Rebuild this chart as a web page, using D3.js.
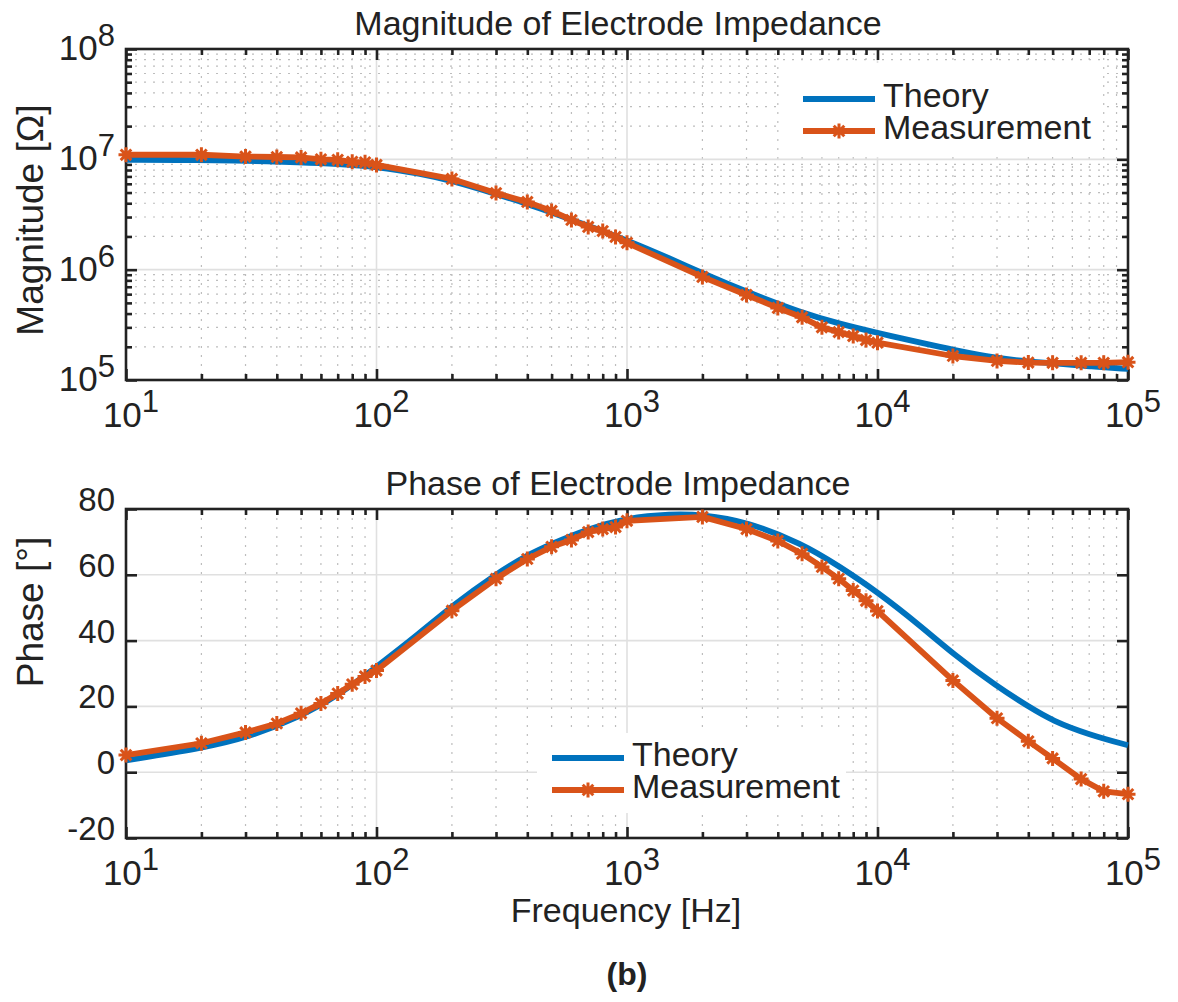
<!DOCTYPE html>
<html>
<head>
<meta charset="utf-8">
<script src="https://cdn.jsdelivr.net/npm/d3@7"></script>
<style>
  body { margin: 0; background: #fff; }
  svg text { font-family: "Liberation Sans", Arial, Helvetica, sans-serif; fill: #222; }
</style>
</head>
<body>
<svg id="chart" width="1178" height="1002"></svg>
<script>
// measured points (Hz)
var freqMeas = [10, 20, 30, 40, 50, 60, 70, 80, 90, 100,
    200, 300, 400, 500, 600, 700, 800, 900, 1000,
    2000, 3000, 4000, 5000, 6000, 7000, 8000, 9000, 10000,
    20000, 30000, 40000, 50000, 65000, 80000, 100000];
var magMeas = [1.10e7, 1.10e7, 1.06e7, 1.05e7, 1.04e7, 1.00e7, 0.99e7, 0.95e7, 0.94e7, 8.9e6,
    6.64e6, 4.95e6, 4.11e6, 3.41e6, 2.82e6, 2.44e6, 2.24e6, 1.98e6, 1.75e6,
    8.6e5, 5.9e5, 4.5e5, 3.7e5, 3.0e5, 2.72e5, 2.5e5, 2.3e5, 2.18e5,
    1.65e5, 1.49e5, 1.44e5, 1.43e5, 1.43e5, 1.43e5, 1.45e5];
var phaseMeas = [5.2, 8.8, 12.1, 14.8, 17.9, 20.9, 23.9, 26.7, 29.1, 30.9,
    49.1, 58.8, 64.8, 68.5, 70.6, 73.0, 73.9, 74.5, 76.4,
    77.6, 73.9, 70.3, 66.4, 62.4, 58.8, 55.2, 52.1, 49.0,
    27.9, 16.4, 9.4, 4.2, -2.1, -5.8, -6.7];

// theory curve
var freqTheory = [10, 20, 30, 50, 70, 100, 150, 200, 300, 400, 500, 700, 1000, 1500, 2000,
    3000, 5000, 7000, 10000, 15000, 20000, 30000, 40000, 50000, 70000, 100000];
var magTheory = [9.9e6, 9.85e6, 9.7e6, 9.4e6, 9.1e6, 8.6e6, 7.4e6, 6.4e6, 4.85e6, 3.95e6, 3.3e6, 2.5e6, 1.85e6, 1.25e6, 9.3e5,
    6.3e5, 4.05e5, 3.25e5, 2.67e5, 2.17e5, 1.88e5, 1.57e5, 1.47e5, 1.42e5, 1.33e5, 1.26e5];
var phaseTheory = [3.6, 7.3, 10.3, 17.0, 23.2, 32.0, 42.5, 50.5, 60.3, 66.0, 69.4, 74.0, 77.3, 78.5, 78.3,
    76.2, 69.5, 62.7, 54.8, 44.2, 36.0, 26.0, 20.0, 15.6, 11.4, 8.2];

var xExps = [1, 2, 3, 4, 5];
var magExps = [5, 6, 7, 8];
var phaseTicks = [-20, 0, 20, 40, 60, 80];
var seriesNames = ['Theory', 'Measurement'];

var blue = '#0072BD', orange = '#D95319';

var svg = d3.select('#chart');

var x = d3.scaleLog().domain([10, 1e5]).range([126, 1128]);
var yMag = d3.scaleLog().domain([1e5, 1e8]).range([380, 49]);
var yPh = d3.scaleLinear().domain([-20, 80]).range([838, 509]);

function minorsOf(exps) {
    var out = [];
    for (var i = 0; i < exps.length - 1; i++) {
        for (var k = 2; k <= 9; k++) out.push(k * Math.pow(10, exps[i]));
    }
    return out;
}
var xMajor = xExps.map(function(e){ return Math.pow(10, e); });
var xMinor = minorsOf(xExps);
var magMajor = magExps.map(function(e){ return Math.pow(10, e); });
var magMinor = minorsOf(magExps);

function asterisk(g, cx, cy) {
    g.append('path')
        .attr('transform', 'translate(' + cx + ',' + cy + ')')
        .attr('d', 'M-7.5,0H7.5M0,-7.5V7.5M-5.3,-5.3L5.3,5.3M-5.3,5.3L5.3,-5.3')
        .attr('stroke', orange).attr('stroke-width', 3).attr('fill', 'none');
}

function drawPanel(y, opts) {
    var g = svg.append('g');
    var r = y.range();
    var yb = r[0], yt = r[1];
    var xl = 126, xr = 1128;

    // minor grid (dotted)
    g.append('g').selectAll('line').data(xMinor).enter().append('line')
        .attr('x1', function(d){ return x(d); }).attr('x2', function(d){ return x(d); })
        .attr('y1', yt).attr('y2', yb)
        .attr('stroke', '#bdbdbd').attr('stroke-width', 1.2).attr('stroke-dasharray', '2,7');
    if (opts.yMinor) {
        g.append('g').selectAll('line').data(opts.yMinor).enter().append('line')
            .attr('x1', xl).attr('x2', xr)
            .attr('y1', function(d){ return y(d); }).attr('y2', function(d){ return y(d); })
            .attr('stroke', '#bdbdbd').attr('stroke-width', 1.2).attr('stroke-dasharray', '2,7');
    }
    // major grid (solid)
    g.append('g').selectAll('line').data(xMajor.slice(1, -1)).enter().append('line')
        .attr('x1', function(d){ return x(d); }).attr('x2', function(d){ return x(d); })
        .attr('y1', yt).attr('y2', yb)
        .attr('stroke', '#e0e0e0').attr('stroke-width', 1.6);
    g.append('g').selectAll('line').data(opts.yMajor.slice(1, -1)).enter().append('line')
        .attr('x1', xl).attr('x2', xr)
        .attr('y1', function(d){ return y(d); }).attr('y2', function(d){ return y(d); })
        .attr('stroke', '#e0e0e0').attr('stroke-width', 1.6);

    // ticks via d3 axes (inward), on all four sides
    function styleAxis(sel) {
        sel.select('.domain').remove();
        sel.selectAll('.tick line').attr('stroke', '#222').attr('stroke-width', 2.6);
        sel.selectAll('.tick text').remove();
    }
    g.append('g').attr('transform', 'translate(0,' + yb + ')')
        .call(d3.axisBottom(x).tickValues(xMajor).tickSize(-11)).call(styleAxis);
    g.append('g').attr('transform', 'translate(0,' + yb + ')')
        .call(d3.axisBottom(x).tickValues(xMinor).tickSize(-6)).call(styleAxis);
    g.append('g').attr('transform', 'translate(0,' + yt + ')')
        .call(d3.axisTop(x).tickValues(xMajor).tickSize(-11)).call(styleAxis);
    g.append('g').attr('transform', 'translate(0,' + yt + ')')
        .call(d3.axisTop(x).tickValues(xMinor).tickSize(-6)).call(styleAxis);
    g.append('g').attr('transform', 'translate(' + xl + ',0)')
        .call(d3.axisLeft(y).tickValues(opts.yMajor).tickSize(-11)).call(styleAxis);
    g.append('g').attr('transform', 'translate(' + xr + ',0)')
        .call(d3.axisRight(y).tickValues(opts.yMajor).tickSize(-11)).call(styleAxis);
    if (opts.yMinor) {
        g.append('g').attr('transform', 'translate(' + xl + ',0)')
            .call(d3.axisLeft(y).tickValues(opts.yMinor).tickSize(-6)).call(styleAxis);
        g.append('g').attr('transform', 'translate(' + xr + ',0)')
            .call(d3.axisRight(y).tickValues(opts.yMinor).tickSize(-6)).call(styleAxis);
    }
    g.append('rect').attr('x', xl).attr('y', yt).attr('width', xr - xl).attr('height', yb - yt)
        .attr('fill', 'none').attr('stroke', '#222').attr('stroke-width', 2.6);

    // x tick labels 10^n
    var xt = g.append('g').selectAll('text').data(xExps).enter().append('text')
        .attr('x', function(d){ return x(Math.pow(10, d)) + 5; })
        .attr('y', yb + 47)
        .attr('text-anchor', 'middle')
        .style('font-size', '35px');
    xt.append('tspan').text('10');
    xt.append('tspan').attr('dy', -15).style('font-size', '31px').text(function(d){ return d; });

    // title
    g.append('text').attr('x', 618).attr('y', yt - 14).attr('text-anchor', 'middle')
        .style('font-size', '34px').text(opts.title);
    // y label
    g.append('text').attr('transform', 'translate(43,' + opts.labelY + ') rotate(-90)')
        .attr('text-anchor', 'middle').style('font-size', '37px').text(opts.ylabel);

    // series
    var theoryLine = d3.line()
        .x(function(d, i){ return x(freqTheory[i]); })
        .y(function(d){ return y(d); })
        .curve(d3.curveBasis);
    g.append('path').attr('d', theoryLine(opts.theory))
        .attr('fill', 'none').attr('stroke', blue).attr('stroke-width', 5.8);
    var measLine = d3.line()
        .x(function(d, i){ return x(freqMeas[i]); })
        .y(function(d){ return y(d); });
    g.append('path').attr('d', measLine(opts.meas))
        .attr('fill', 'none').attr('stroke', orange).attr('stroke-width', 5.8)
        .attr('stroke-linejoin', 'round');
    var mk = g.append('g');
    opts.meas.forEach(function(v, i){ asterisk(mk, x(freqMeas[i]), y(v)); });

    // legend
    var L = opts.legend;
    var lg = g.append('g');
    lg.append('rect').attr('x', L.bx).attr('y', L.by).attr('width', L.bw).attr('height', L.bh).attr('fill', '#fff');
    seriesNames.forEach(function(name, i){
        var ly = L.y0 + i * 32;
        lg.append('line').attr('x1', L.x0).attr('x2', L.x0 + 72).attr('y1', ly).attr('y2', ly)
            .attr('stroke', i === 0 ? blue : orange).attr('stroke-width', 5.8);
        if (i === 1) asterisk(lg, L.x0 + 36, ly);
        lg.append('text').attr('x', L.x0 + 80).attr('y', ly + 8)
            .style('font-size', '34px').text(name);
    });
    return g;
}

var magPanel = drawPanel(yMag, {
    yMajor: magMajor, yMinor: magMinor,
    title: 'Magnitude of Electrode Impedance',
    ylabel: 'Magnitude [Ω]', labelY: 220,
    theory: magTheory, meas: magMeas,
    legend: {bx: 783, by: 63, bw: 317, bh: 94, x0: 803, y0: 99}
});
// magnitude y labels
var ml = magPanel.append('g').selectAll('text').data(magExps).enter().append('text')
    .attr('x', 115).attr('y', function(d){ return yMag(Math.pow(10, d)) + 11; })
    .attr('text-anchor', 'end').style('font-size', '35px');
ml.append('tspan').text('10');
ml.append('tspan').attr('dy', -14).style('font-size', '31px').text(function(d){ return d; });

var phasePanel = drawPanel(yPh, {
    yMajor: phaseTicks, yMinor: null,
    title: 'Phase of Electrode Impedance',
    ylabel: 'Phase [°]', labelY: 612,
    theory: phaseTheory, meas: phaseMeas,
    legend: {bx: 537, by: 733, bw: 309, bh: 80, x0: 552, y0: 758}
});
phasePanel.append('g').selectAll('text').data(phaseTicks).enter().append('text')
    .attr('x', 115).attr('y', function(d){ return yPh(d) + 2; })
    .attr('text-anchor', 'end').style('font-size', '33px').text(function(d){ return d; });

svg.append('text').attr('x', 626).attr('y', 922).attr('text-anchor', 'middle')
    .style('font-size', '34px').text('Frequency [Hz]');
svg.append('text').attr('x', 627).attr('y', 985).attr('text-anchor', 'middle')
    .style('font-size', '32px').style('font-weight', 'bold').text('(b)');
</script>
</body>
</html>
